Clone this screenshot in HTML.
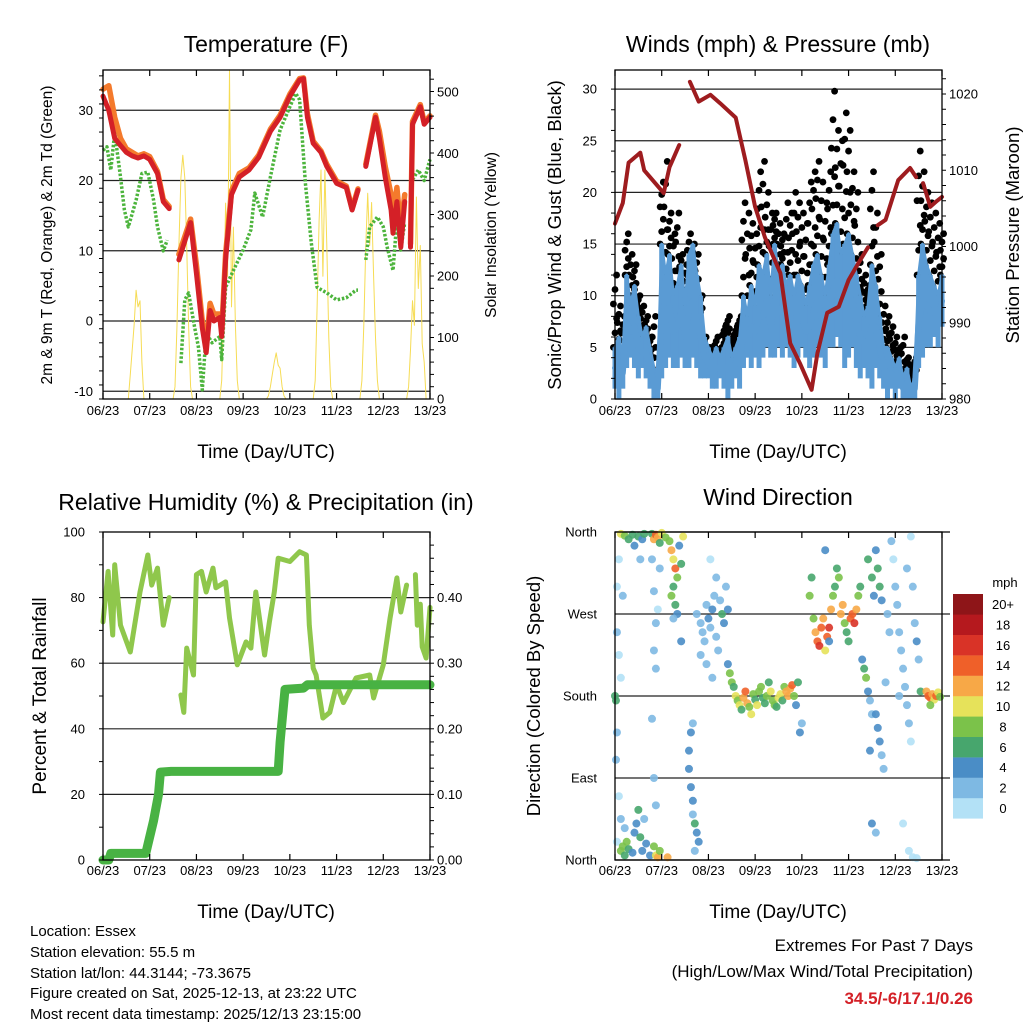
<!DOCTYPE html>
<html><head><meta charset="utf-8"><style>
html,body{margin:0;padding:0;background:#fff;}
svg{display:block;font-family:"Liberation Sans",sans-serif;}
</style></head><body>
<svg id="chart" width="1024" height="1024" viewBox="0 0 1024 1024" xmlns="http://www.w3.org/2000/svg">
<rect x="0" y="0" width="1024" height="1024" fill="#fff"/>
<g id="layer"></g>
<g font-size="23" text-anchor="middle" fill="#000">
<text x="266" y="52">Temperature (F)</text>
<text x="778" y="52">Winds (mph) &amp; Pressure (mb)</text>
<text x="266" y="510">Relative Humidity (%) &amp; Precipitation (in)</text>
<text x="778" y="505">Wind Direction</text>
</g>
<g font-size="19" text-anchor="middle">
<text x="266" y="458">Time (Day/UTC)</text>
<text x="778" y="458">Time (Day/UTC)</text>
<text x="266" y="918">Time (Day/UTC)</text>
<text x="778" y="918">Time (Day/UTC)</text>
<text transform="translate(52,235) rotate(-90)" font-size="15.5">2m &amp; 9m T (Red, Orange) &amp; 2m Td (Green)</text>
<text transform="translate(496,235) rotate(-90)" font-size="15.5">Solar Insolation (Yellow)</text>
<text transform="translate(561,235) rotate(-90)" font-size="18.5">Sonic/Prop Wind &amp; Gust (Blue, Black)</text>
<text transform="translate(1019,235) rotate(-90)" font-size="18.5">Station Pressure (Maroon)</text>
<text transform="translate(46,696) rotate(-90)" font-size="19">Percent &amp; Total Rainfall</text>
<text transform="translate(540,696) rotate(-90)" font-size="18.5">Direction (Colored By Speed)</text>
</g>
<g font-size="15" fill="#000">
<text x="30" y="936">Location: Essex</text>
<text x="30" y="957">Station elevation: 55.5 m</text>
<text x="30" y="978">Station lat/lon: 44.3144; -73.3675</text>
<text x="30" y="998">Figure created on Sat, 2025-12-13, at 23:22 UTC</text>
<text x="30" y="1019">Most recent data timestamp: 2025/12/13 23:15:00</text>
</g>
<g font-size="17" text-anchor="end">
<text x="973" y="951">Extremes For Past 7 Days</text>
<text x="973" y="977">(High/Low/Max Wind/Total Precipitation)</text>
<text x="973" y="1004" fill="#d42027" font-weight="bold">34.5/-6/17.1/0.26</text>
</g>
</svg>
<script>
// ---- shared axis
const dayLabels = ["06/23","07/23","08/23","09/23","10/23","11/23","12/23","13/23"];
// ---- temperature panel data (t = hours since 06/23)
const tempT = [0,3,6,9,12,15,18,21,24,28,31,34,null,39,45,48,51,53,55,57,60,61,63,66,70,75,80,86,91,96,101,103,105,108,112,115,120,125,128,131,null,135,140,142,145,148,149,151,153,155,null,158,159,163,165,168];
const tempRed = [32,30,26,25,24,23.5,23.2,23.5,23,21,17,16,null,8.7,14,6.8,-1,-4.5,1.5,0,0.5,-2.2,8.7,18,20.5,21.5,23.3,27,29,32,34.3,34.5,29,25.3,24,22,19.6,19,15.8,18.6,null,22,29,26,20.5,15.8,12.5,17,10.5,17,null,10.5,28,30.5,28,29];
const tempOrange = [33,33.5,29,26,24.5,24,23.5,23.8,23.4,21.3,17.3,16.3,null,9.5,14.5,8,0,-3.5,2.5,1,1,-1.5,9.5,18.5,21,21.8,23.6,27.3,29.3,32.3,34.5,34.6,29.5,25.6,24.2,22.3,19.9,19.2,16,18.8,null,22.3,29.3,27,22,18,15,19,13,18,null,11,28.4,30.8,28.3,29.2];
const dewT = [0,2,4,6,9,11,13,17,20,23,26,28,31,33,null,40,42,44,47,49,51,53,56,60,61,63,67,72,76,78,82,86,91,96,99,101,104,107,110,115,120,125,130,131,null,135,137,141,144,146,149,151,153,155,null,158,162,165,168];
const dewVal = [24.3,24.8,21.5,26.8,20.5,15.8,13.4,17.2,21,21.2,17.2,13.4,10,11.5,null,-6,3,4,-0.8,-3.7,-9.8,-1.7,-3.1,-2.2,-5.5,4.8,7.2,10.1,13,18.2,14.8,20.5,27.2,30.5,32.4,31.5,19.6,11.1,4.8,4,3,3.3,4.4,4.4,null,8.7,13.4,14.8,13.4,10.5,7.2,14.4,10.1,14,null,19.6,21.5,20,23];
const solarHours = [12,13,14,15,16,17,18,19,20,21,22];
const solarDays = [
 [0,0,40,80,120,177,150,160,60,0,0],
 [0,20,120,250,360,397,360,250,120,20,0],
 [0,30,150,319,200,536,150,280,120,30,0],
 [0,5,20,40,60,75,55,50,20,5,0],
 [0,30,150,290,373,200,373,250,100,20,0],
 [0,30,120,250,335,250,320,200,100,30,0],
 [0,20,80,160,120,329,180,250,90,60,0]];
const tempTicks = [-10,0,10,20,30];
const solarTicks = [0,100,200,300,400,500];
// ---- wind panel data (2-hourly, index i -> t = 2i)
const windHi = [5,6,4,12,9,11,8,6,7,5,3,2,15,12,14,10,11,13,9,14,15,12,10,6,5,4,5,4,5,6,4,5,6,10,8,11,9,13,12,14,10,15,12,13,11,12,10,12,11,9,11,13,14,12,10,13,16,17,14,15,16,14,12,10,8,9,13,11,8,5,5,4,3,4,2,3,1,2,12,15,13,12,11,10,12];
const windLo = [1,0,1,3,4,3,2,3,2,1,0,0,2,3,4,3,3,4,3,3,4,3,2,2,2,1,1,2,1,0,1,2,1,3,4,3,4,3,4,5,4,4,5,4,5,4,3,4,5,4,3,4,5,4,3,5,5,6,5,3,4,5,3,2,3,2,1,3,2,1,0,1,0,1,0,0,0,0,3,4,5,5,6,5,7];
const gustHi = [12,9,8,16,14,13,10,9,8,6,8,3,21,23,18,16,18,14,13,16,15,14,10,6,5,5,6,5,7,8,6,7,8,19,18,17,16,22,23,20,18,18,17,16,19,18,20,19,18,17,21,22,23,21,19,22,29.8,26,25,27.7,26,22,20,14,12,11,22,18,14,9,8,7,6,5,6,4,3,4,24,22,20,19,18,17,16];
const gustLo = [7,5,6,12,11,10,8,7,6,4,5,2,16,17,14,12,13,11,10,12,11,10,8,4,4,3,4,4,5,6,4,5,6,14,15,13,12,17,18,16,14,15,14,13,16,15,16,15,14,13,17,18,19,17,15,18,22,21,20,22,21,18,16,11,10,9,17,14,11,7,6,5,4,4,5,3,2,3,19,18,16,15,14,13,14];
const presT = [0,4,7,13,15,18,25,28,33,null,38.5,43,49,54,62,67,72,77,85,90,95,101,104,109,115,120,125,130,null,135,139,145.5,151.6,154.7,null,158.3,162,165.5,168];
const presVal = [1003,1005.7,1011,1012.3,1010,1009.1,1007,1010.4,1013.3,null,1021.6,1019,1019.9,1018.8,1016.9,1011.3,1005.2,1001.2,996.5,987.3,984.7,981.2,986,991.3,992.1,995.6,997.8,999.9,null,1002.8,1003.5,1008.7,1010.3,1009.1,null,1008.3,1005.2,1006,1006.5];
const windTicks = [0,5,10,15,20,25,30];
const presTicks = [980,990,1000,1010,1020];
// ---- RH panel data
const rhT = [0,2.6,5,6,9,14,19,23,25,28,31,34,null,40,41.5,43,46.5,48,50.6,53,56.5,58,63,65,69,73.5,76,78.5,83,85.5,88,90,96,101,104.5,106,108,109.5,113,116.5,120,123.5,130,137,139,144,147.5,151,153,156,null,160.5,161.5,163,164,166,168];
const rhVal = [72.6,88,68.6,90,71.6,63.4,81.7,93,83.8,89,71.6,80,null,50.3,45,64.6,56.4,87,88,81.7,89,83,84.8,73.8,59.5,66.5,64.6,81.7,62.5,72.6,81.7,92,91,94,93,71.6,58.5,56.4,43.3,45,53.4,48,55.5,56.4,49.4,59.5,73.8,86,75.6,83.8,null,87,71.6,78,65,61.6,77];
const precipT = [0,3,4,22,23,26,28.5,29.5,35,90,91,93.5,103,105,168];
const precipVal = [0,0,0.01,0.01,0.023,0.06,0.10,0.134,0.135,0.135,0.18,0.26,0.262,0.267,0.267];
const rhTicks = [0,20,40,60,80,100];
const precipTicks = [0,0.1,0.2,0.3,0.4];
// ---- wind direction data
const dirT = [1,1,2,0,0.5,1,2,0.5,3,4,2,5,1,3, 3,4,5,6,7,9,10,11,12,13,14,15,16,18,20,21,22,23,27, 3,5,7,9,10,12,14,15,13, 19,20,21,22,23,24,26,23, 19,20,21,20,22,21,19,20,21, 28,29,30,31,32,30,29,31,32,33,34,30,34,35, 38,39,40,40,41,42,43,38,39,40,41, 42,44,45,46,47,48,49,50,51,52,53,54,55,56,57,58,47,50,44,52,49, 58,59,60,61,62,63,64,65,66,67,68,69,70,71,72,73,74,75,76,77,78,79,80,81,82,83,84,85,86,87,88,89,90,91,92,93,95,96,94, 100,101,102,103,104,105,106,107,108,109,110,111,112,113,114,115,116,117,118,119,120,121,122,123,124,125,126,127,128,129,130,131,132,110,108, 130,132,133,134,135,136,137,138,134,135,136,137,131,139,140,141,132,134, 142,143,144,145,146,147,148,149,150,151,152,153,154,155,156,152,150,148,151,153,155,146,157, 160,161,162,163,164,165,166,167,162];
const dirDeg = [300,250,330,180,175,140,70,110,200,290,225,35,20,45, 10,15,5,20,12,8,30,40,55,25,10,45,18,5,15,5,3,10,3, 358,356,352,357,345,355,352,358,330, 358,352,357,354,348,359,354,320, 330,295,260,230,275,210,155,90,60, 350,340,330,320,310,300,290,280,270,345,325,265,240,355, 100,80,65,50,40,30,20,120,140,150,10, 270,260,250,240,280,265,255,275,290,245,230,285,270,260,300,275,215,200,225,310,330, 215,205,195,190,180,175,170,165,178,185,172,168,160,182,176,170,185,190,178,172,180,195,185,175,170,168,178,182,175,190,185,180,188,192,180,170,140,150,195, 290,310,265,250,240,235,255,265,230,245,255,275,290,300,320,310,270,280,260,250,240,265,270,260,275,290,300,220,210,200,185,175,160,240,340, 330,310,290,160,145,130,115,100,340,320,300,285,120,195,270,250,40,30, 350,330,300,280,250,230,210,190,170,150,130,300,260,240,220,355,320,40,10,3,2,180,185, 185,180,178,182,176,180,184,179,170];
const dirSpd = [1,2,1,6,7,2,1,3,1,2,1,2,1,2, 8,9,7,8,6,5,4,5,6,7,4,3,5,4,8,10,12,9,13, 10,8,6,7,4,7,5,6,3, 7,12,14,13,6,11,9,3, 2,2,2,2,1,3,2,3,2, 8,12,10,14,9,6,8,7,5,4,6,3,4,11, 5,4,5,3,6,5,4,4,5,3,3, 2,3,2,2,3,5,2,4,3,2,2,3,7,4,2,5,2,2,2,2,1, 5,8,9,6,11,8,10,7,12,14,13,9,10,8,7,11,8,9,7,6,8,7,10,9,8,6,10,11,7,8,12,13,12,14,9,5,4,3,7, 8,6,9,13,15,16,14,12,10,15,17,12,8,7,6,9,13,12,9,7,6,14,15,16,12,8,6,5,7,8,5,3,3,4,4, 6,7,5,4,5,4,3,2,4,6,7,5,4,3,2,2,4,3, 2,1,2,2,3,2,3,2,3,2,1,3,3,4,2,1,2,1,1,0,1,3,6, 13,15,14,12,10,14,11,9,8];
const dirTickLabels = ["North","East","South","West","North"];
const speedColors = ["#b3e1f6","#7eb9e3","#4a8dc6","#47a66d","#7bc24a","#e6e25a","#f7a847","#ef6029","#d93327","#b5191e","#8e1518"];
const speedLabels = ["0","2","4","6","8","10","12","14","16","18","20+"];

const NS="http://www.w3.org/2000/svg";
const layer=document.getElementById('layer');
function mk(tag,attrs,parent){const e=document.createElementNS(NS,tag);for(const k in attrs)e.setAttribute(k,attrs[k]);(parent||layer).appendChild(e);return e;}
function panel(x0,y0,x1,y1){return {x0,y0,x1,y1,X:t=>x0+(x1-x0)*t/168};}
const P1=panel(103,70,430,399),P2=panel(615,70,942,399),P3=panel(103,532,430,860),P4=panel(615,532,942,860);
const yT=v=>321-v*7.025, yS=v=>399-v*0.614;
const yW=v=>399-v*10.33, yP=v=>399-(v-980)*7.625;
const yRH=v=>860-v*3.28, yPr=v=>860-v*656;
const yD=v=>860-v*328/360;

function polySeg(P,ts,vs,yf,style,name){
  let seg=[];const segs=[];
  for(let i=0;i<ts.length;i++){if(ts[i]===null||vs[i]===null){if(seg.length)segs.push(seg);seg=[];continue;}seg.push(P.X(ts[i]).toFixed(1)+','+yf(vs[i]).toFixed(1));}
  if(seg.length)segs.push(seg);
  segs.forEach(s=>{const e=mk('polyline',Object.assign({points:s.join(' '),fill:'none','stroke-linejoin':'round','stroke-linecap':'round'},style));
    
    });
}
function frame(P,name){
  const r=mk('rect',{x:P.x0,y:P.y0,width:P.x1-P.x0,height:P.y1-P.y0,fill:'none',stroke:'#000','stroke-width':1.3});
  
  
}
function xAxis(P,labelY,name){
  dayLabels.forEach((d,i)=>{const x=P.X(i*24);
    mk('line',{x1:x,x2:x,y1:P.y1,y2:P.y1-6,stroke:'#000','stroke-width':1.2});
    mk('line',{x1:x,x2:x,y1:P.y0,y2:P.y0+6,stroke:'#000','stroke-width':1.2});
    const t=mk('text',{x:x,y:labelY,'font-size':13,'text-anchor':'middle'});t.textContent=d;
    
    });
}
function grid(P,vals,yf,ext){vals.forEach(v=>{const y=yf(v);const g=mk('line',{x1:P.x0,x2:P.x1+(ext||0),y1:y,y2:y,stroke:'#222','stroke-width':1.2});
  
  });}
function yLabels(vals,yf,x,anchor,fmt,name){vals.forEach((v,i)=>{const t=mk('text',{x:x,y:yf(v)+4.5,'font-size':13,'text-anchor':anchor});t.textContent=fmt?fmt(v,i):v;
  
  });}
function minorTicks(x,y0,y1,step,side){for(let y=y1;y>=y0;y-=step){mk('line',{x1:x,x2:x+side*4,y1:y,y2:y,stroke:'#000','stroke-width':1});}}

// ===== Panel 1: temperature
grid(P1,tempTicks,yT);
solarDays.forEach((day,d)=>{polySeg(P1,solarHours.map(h=>d*24+h),day,yS,{stroke:'#f6dc55','stroke-width':1},'solar-line');});
polySeg(P1,dewT,dewVal,yT,{stroke:'#4cb43c','stroke-width':3.5,'stroke-dasharray':'2.5 1.8','stroke-linecap':'butt'},'dewpoint-line');
polySeg(P1,tempT,tempOrange,yT,{stroke:'#f47a2c','stroke-width':5.5},'temp-9m-line');
polySeg(P1,tempT,tempRed,yT,{stroke:'#d42027','stroke-width':5},'temp-2m-line');
frame(P1,'temperature-plot-frame');
xAxis(P1,415,'temp-x');
yLabels(tempTicks,yT,93,'end',null,'temp-y-tick-label');
yLabels(solarTicks,yS,437,'start',null,'solar-y-tick-label');
minorTicks(430,70,399,12.3,1);minorTicks(103,70,399,14.05,-1);

// ===== Panel 2: winds
grid(P2,windTicks,yW);
gustHi.forEach((v,i)=>{const x=P2.X(i*2);
  const lo=Math.min(gustLo[i],windHi[i]);
  for(let k=0;k<=5;k++){const g=lo+(v-lo)*k/5;
    const c=mk('circle',{cx:x+((k%3)-1)*1.6,cy:yW(g),r:3.4,fill:'#000'});
    
    }});
windHi.forEach((v,i)=>{const x=P2.X(i*2);
  const b=mk('line',{x1:x,x2:x,y1:yW(windLo[i]),y2:yW(v),stroke:'#5a9bd4','stroke-width':5});
  
  });
polySeg(P2,windHi.map((v,i)=>i*2),windHi,yW,{stroke:'#5a9bd4','stroke-width':3},'wind-line');
polySeg(P2,windLo.map((v,i)=>i*2),windLo.map((v,i)=>(v+windHi[i])/2),yW,{stroke:'#5a9bd4','stroke-width':6},'wind-mid-line');
polySeg(P2,presT,presVal,yP,{stroke:'#9e1c1f','stroke-width':4},'pressure-line');
frame(P2,'winds-plot-frame');
xAxis(P2,415,'wind-x');
yLabels(windTicks,yW,597,'end',null,'wind-y-tick-label');
yLabels(presTicks,yP,949,'start',null,'pressure-y-tick-label');
minorTicks(942,70,399,15.25,1);minorTicks(615,70,399,20.66,-1);

// ===== Panel 3: RH & precipitation
grid(P3,[20,40,60,80],yRH);
polySeg(P3,rhT,rhVal,yRH,{stroke:'#8fc74c','stroke-width':5},'rh-line');
polySeg(P3,precipT,precipVal,yPr,{stroke:'#48b243','stroke-width':9},'precip-line');
frame(P3,'rh-plot-frame');
xAxis(P3,875,'rh-x');
yLabels(rhTicks,yRH,85,'end',null,'rh-y-tick-label');
yLabels(precipTicks,yPr,437,'start',v=>v.toFixed(2),'precip-y-tick-label');
minorTicks(430,532,860,13.12,1);minorTicks(103,532,860,32.8,-1);

// ===== Panel 4: wind direction
grid(P4,[90,180,270],yD,8);
mk('line',{x1:P4.x0,x2:P4.x1+8,y1:P4.y0,y2:P4.y0,stroke:'#000','stroke-width':1.3});
mk('line',{x1:P4.x0,x2:P4.x1+8,y1:P4.y1,y2:P4.y1,stroke:'#000','stroke-width':1.3});
dirT.forEach((t,i)=>{const ci=Math.min(10,Math.floor(dirSpd[i]/2));
  const c=mk('circle',{cx:P4.X(t),cy:yD(dirDeg[i]),r:4,fill:speedColors[ci],'fill-opacity':0.9});
  
  });
frame(P4,'direction-plot-frame');
xAxis(P4,875,'dir-x');
yLabels([0,90,180,270,360],yD,597,'end',(v,i)=>dirTickLabels[i],'direction-y-tick-label');
// colorbar
speedColors.forEach((c,i)=>{const y=594+20.4*(10-i);
  const r=mk('rect',{x:953,y:y,width:30,height:20.6,fill:c});
  
  
  const t=mk('text',{x:1003,y:y+15,'font-size':13,'text-anchor':'middle'});t.textContent=speedLabels[i];
  
  });
const mph=mk('text',{x:1005,y:587,'font-size':13,'text-anchor':'middle'});mph.textContent='mph';


</script>
</body></html>
